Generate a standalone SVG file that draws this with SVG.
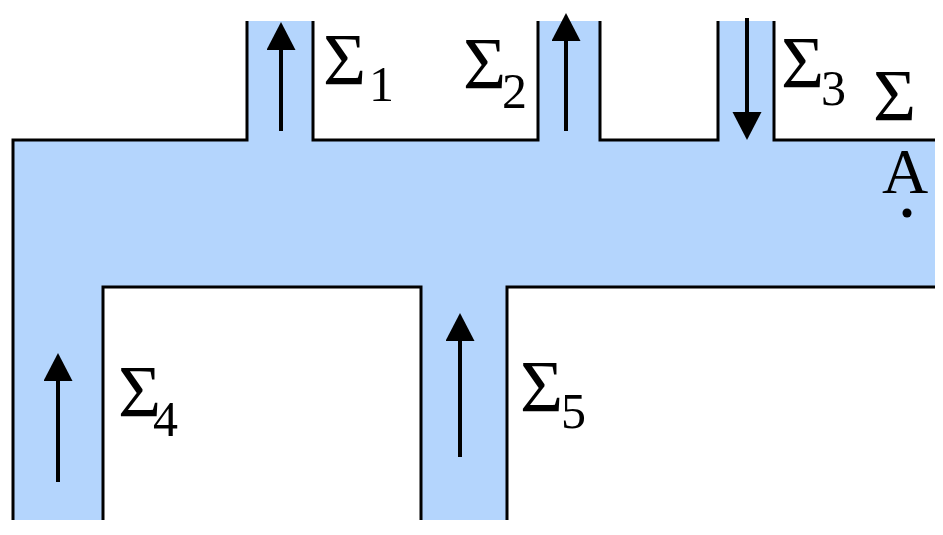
<svg xmlns="http://www.w3.org/2000/svg" width="943" height="535" viewBox="0 0 943 535">
<style>
.wall{fill:none;stroke:#000;stroke-width:3;stroke-linejoin:miter;stroke-linecap:butt}
.flow{fill:#b4d5fd;stroke:none}
.arr{stroke:#000;stroke-width:4;fill:none;marker-end:url(#head)}
.big{font-family:"Liberation Serif","Times New Roman",serif;font-size:74px;fill:#000}
.a{font-family:"Liberation Serif","Times New Roman",serif;font-size:64px;fill:#000}
.sub{font-family:"Liberation Serif","Times New Roman",serif;font-size:50px;fill:#000}
</style>
<defs>
<marker id="head" markerUnits="userSpaceOnUse" markerWidth="30" markerHeight="30" refX="2" refY="14.5" orient="auto" viewBox="0 0 30 30">
<path d="M0,0 L28,14.5 L0,29 Z" fill="#000"/>
</marker>
</defs>
<rect width="943" height="535" fill="#fff"/>
<g id="pipe">
<polygon class="flow" points="13,140 247,140 247,21 313,21 313,140 538,140 538,21 600,21 600,140 718,140 718,21 774,21 774,140 935,140 935,287 507,287 507,520 421,520 421,287 103,287 103,520 13,520"/>
<polyline class="wall" points="13,520 13,140 247,140 247,21"/>
<polyline class="wall" points="313,21 313,140 538,140 538,21"/>
<polyline class="wall" points="600,21 600,140 718,140 718,21"/>
<polyline class="wall" points="774,21 774,140 935,140"/>
<polyline class="wall" points="103,520 103,287 421,287 421,520"/>
<polyline class="wall" points="507,520 507,287 935,287"/>
</g>
<g id="connectors">
<line class="arr" x1="281" y1="131" x2="281" y2="48"/>
<line class="arr" x1="566" y1="131" x2="566" y2="39"/>
<line class="arr" x1="747" y1="18" x2="747" y2="114"/>
<line class="arr" x1="58" y1="482" x2="58" y2="379"/>
<line class="arr" x1="460" y1="457" x2="460" y2="339"/>
</g>
<g id="label-s1"><text class="big" x="323" y="85">Σ</text><text class="sub" x="369" y="101">1</text></g>
<g id="label-s2"><text class="big" x="463" y="89">Σ</text><text class="sub" x="502" y="108">2</text></g>
<g id="label-s3"><text class="big" x="781" y="88">Σ</text><text class="sub" x="821" y="105">3</text></g>
<g id="label-s"><text class="big" x="873" y="121">Σ</text></g>
<g id="point-a"><text class="a" x="882" y="193">A</text><circle cx="907" cy="213" r="4.5" fill="#000"/></g>
<g id="label-s4"><text class="big" x="118" y="417">Σ</text><text class="sub" x="153" y="436">4</text></g>
<g id="label-s5"><text class="big" x="520" y="412">Σ</text><text class="sub" x="561" y="428">5</text></g>
</svg>
